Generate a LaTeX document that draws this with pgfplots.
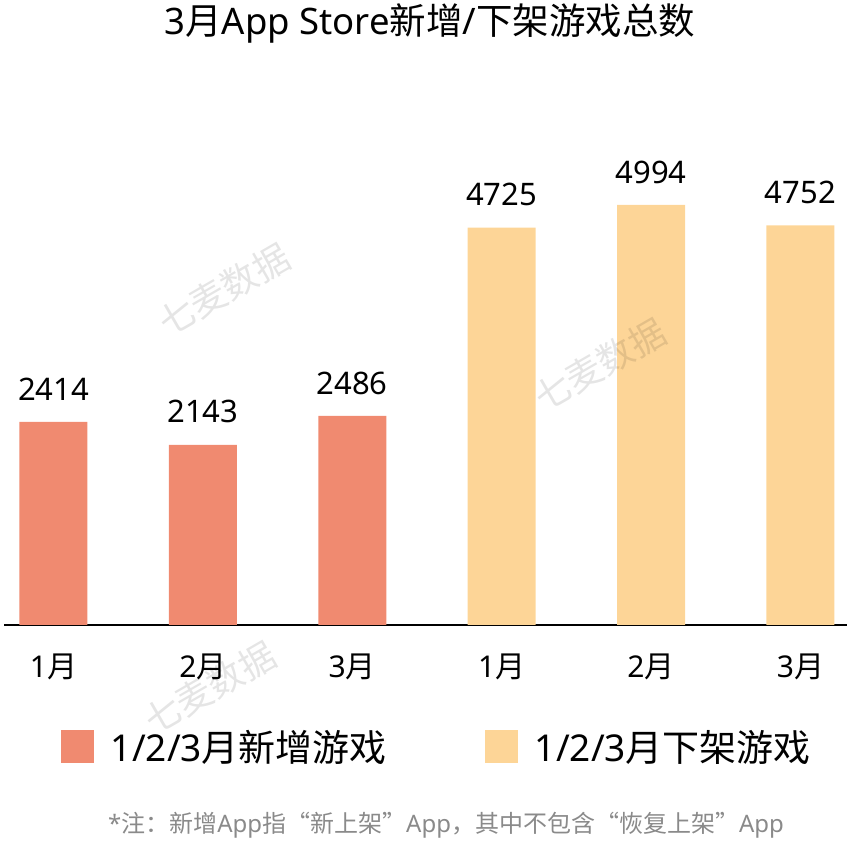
\documentclass[border=0pt]{standalone}
\usepackage{pgfplots}
\pgfplotsset{compat=1.18}
\usepackage{fontspec}
\setmainfont{Noto Sans}
\newfontfamily\cjk{Noto Sans CJK SC}
\definecolor{salmon}{HTML}{F08A70}
\definecolor{peach}{HTML}{FDD597}
\definecolor{note}{HTML}{8A8A8A}
\begin{document}
\begin{tikzpicture}[x=1pt,y=1pt]
\useasboundingbox (0,0) rectangle (859,847);
\begin{axis}[
  at={(3,264)}, anchor=south west,
  scale only axis, width=843pt, height=504.6pt,
  xmin=-0.328, xmax=5.315, ymin=0, ymax=6000,
  axis x line=bottom, axis y line=none,
  x axis line style={-, line width=1.5pt, black},
  xtick={0,1,2,3,4,5},
  xticklabels={1{\cjk 月},2{\cjk 月},3{\cjk 月},1{\cjk 月},2{\cjk 月},3{\cjk 月}},
  major tick length=0pt,
  xticklabel style={font=\fontsize{30}{30}\selectfont, yshift=-25pt},
  clip=false,
  /pgf/number format/.cd, 1000 sep={}, assume math mode=true, /pgfplots/.cd,
  nodes near coords,
  every node near coord/.append style={font=\fontsize{31}{31}\selectfont, black, yshift=18pt},
  legend columns=2,
  legend style={at={(0.513,-0.2418)}, anchor=center, draw=none,
    font=\fontsize{37}{37}\selectfont,
    /tikz/every even column/.append style={column sep=96pt}},
  legend cell align=left,
]
\addplot[ybar, bar width=68pt, bar shift=0pt, fill=salmon, draw=none,
  legend image code/.code={\fill[salmon] (0pt,-16.5pt) rectangle (33pt,16.5pt);}]
  coordinates {(0,2414) (1,2143) (2,2486)};
\addlegendentry{\hspace{15pt}1/2/3{\cjk 月新增游戏}}
\addplot[ybar, bar width=68pt, bar shift=0pt, fill=peach, draw=none,
  legend image code/.code={\fill[peach] (0pt,-16.5pt) rectangle (33pt,16.5pt);}]
  coordinates {(3,4725) (4,4994) (5,4752)};
\addlegendentry{\hspace{15pt}1/2/3{\cjk 月下架游戏}}
\end{axis}
% watermarks
\begin{scope}[every node/.style={text=black, text opacity=0.1, rotate=30, font=\cjk\fontsize{36}{36}\selectfont}]
\node at (224,557) {七麦数据};
\node at (600,482) {七麦数据};
\node at (210,159) {七麦数据};
\end{scope}
\node[font=\fontsize{36.5}{36.5}\selectfont] at (430,824) {3{\cjk 月}App Store{\cjk 新增}/{\cjk 下架游戏总数}};
\node[note, font=\fontsize{24}{24}\selectfont] at (446,22) {*{\cjk 注：新增}App{\cjk 指“新上架”}App{\cjk ，其中不包含“恢复上架”}App};
\end{tikzpicture}
\end{document}
